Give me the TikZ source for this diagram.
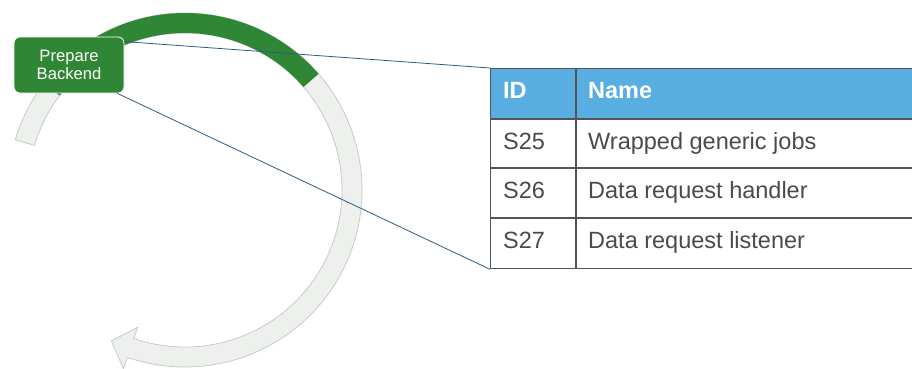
\documentclass[tikz,border=0pt]{standalone}
\usepackage{fontspec}
\setmainfont{Liberation Sans}
\usetikzlibrary{calc}
\definecolor{grn}{HTML}{2F8634}
\definecolor{arcgray}{HTML}{EEF0EE}
\definecolor{arcedge}{HTML}{C6CCC6}
\definecolor{lnk}{HTML}{2E5B82}
\definecolor{hdr}{HTML}{58AEE1}
\definecolor{tbl}{HTML}{555555}
\definecolor{txt}{HTML}{4A4A4A}
\tikzset{
  stagebox/.style={rounded corners=6pt, fill=grn, draw=white, line width=0.8pt,
    minimum width=110pt, minimum height=56pt, text=white, inner sep=0pt,
    align=center, font=\fontsize{16.6}{17.5}\selectfont},
  link/.style={draw=lnk, line width=0.8pt},
  tablebox/.style={draw=tbl, line width=1.3pt, inner sep=0pt, anchor=north west,
    minimum width=520pt, minimum height=200pt},
  hdrtext/.style={anchor=base west, inner sep=0pt, text=white, font=\fontsize{23.5}{28}\selectfont\bfseries},
  celltext/.style={anchor=base west, inner sep=0pt, text=txt, font=\fontsize{23.5}{28}\selectfont},
  rule/.style={draw=tbl, line width=1.3pt}
}
\begin{document}
\begin{tikzpicture}[x=1pt,y=1pt]
\clip (0,0) rectangle (912,-368);
\coordinate (C) at (185,-190);
% gray circular arrow
\path[fill=arcgray, draw=arcedge, line width=0.8pt]
  ($(C)+(163.5:177)$) arc[start angle=163.5, end angle=-109, radius=177]
  -- ($(C)+(-109:189)$) -- ($(C)+(-116:168)$) -- ($(C)+(-109:145)$)
  -- ($(C)+(-109:157)$) arc[start angle=-109, end angle=163.5, radius=157] -- cycle;
% green progress part
\fill[grn] ($(C)+(143:177)$) arc[start angle=143, end angle=41, radius=177]
  -- ($(C)+(41:157)$) arc[start angle=41, end angle=143, radius=157] -- cycle;
% table
\fill[hdr] (490,-68) rectangle (930,-119);
\node[tablebox] (tab) at (490,-68) {};
\draw[rule] (490,-119) -- (930,-119);
\draw[rule] (490,-168) -- (930,-168);
\draw[rule] (490,-218) -- (930,-218);
\draw[rule] (576,-68) -- (576,-268);
\node[hdrtext] (hid) at (503,-98) {ID};
\node[hdrtext] (hname) at (588,-98) {Name};
\node[celltext] (s25) at (503,-149) {S25};
\node[celltext] (n25) at (588,-149) {Wrapped generic jobs};
\node[celltext] (s26) at (503,-198) {S26};
\node[celltext] (n26) at (588,-198) {Data request handler};
\node[celltext] (s27) at (503,-248) {S27};
\node[celltext] (n27) at (588,-248) {Data request listener};
% stage box
\node[stagebox] (pb) at (69,-65) {Prepare\\Backend};
% connectors
\draw[link] ($(pb.north east)+(0,-5)$) -- (tab.north west);
\draw[link] ($(pb.south east)+(-7,0)$) -- (tab.south west);
\end{tikzpicture}
\end{document}
